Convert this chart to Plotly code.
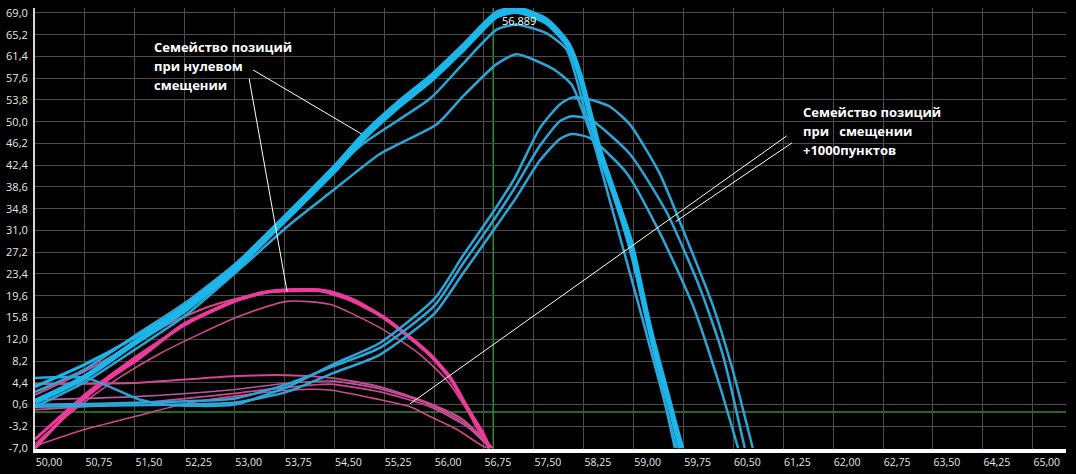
import plotly.graph_objects as go

# ---------------- axis ticks ----------------
x_ticks = [50.00, 50.75, 51.50, 52.25, 53.00, 53.75, 54.50, 55.25, 56.00, 56.75, 57.50,
           58.25, 59.00, 59.75, 60.50, 61.25, 62.00, 62.75, 63.50, 64.25, 65.00]
x_tick_labels = ["50,00", "50,75", "51,50", "52,25", "53,00", "53,75", "54,50", "55,25", "56,00",
                 "56,75", "57,50", "58,25", "59,00", "59,75", "60,50", "61,25", "62,00", "62,75",
                 "63,50", "64,25", "65,00"]
y_ticks = [69.0, 65.2, 61.4, 57.6, 53.8, 50.0, 46.2, 42.4, 38.6, 34.8, 31.0, 27.2, 23.4, 19.6,
           15.8, 12.0, 8.2, 4.4, 0.6, -3.2, -7.0]
y_tick_labels = ["69,0", "65,2", "61,4", "57,6", "53,8", "50,0", "46,2", "42,4", "38,6", "34,8",
                 "31,0", "27,2", "23,4", "19,6", "15,8", "12,0", "8,2", "4,4", "0,6", "-3,2", "-7,0"]

cursor_x = 56.889
cursor_y = -0.7
cursor_label = "56,889"

# ---------------- zero-offset family (cyan) ----------------
a1_x = [50.00, 50.75, 51.50, 52.25, 53.01, 53.76, 54.51, 54.96, 55.44, 55.94, 56.43, 56.94, 57.26,
        57.70, 58.02, 58.19, 58.49, 58.94, 59.24, 59.54, 59.71]
a1_y = [1.1, 5.4, 11.4, 17.1, 24.3, 32.9, 41.6, 47.4, 52.5, 57.2, 62.6, 68.5, 69.3,
        67.3, 63.3, 58.2, 44.9, 29.5, 14.0, 0.7, -7.0]

a4_x = [50.00, 50.75, 51.50, 52.25, 53.01, 53.76, 54.51, 54.96, 55.44, 55.94, 56.43, 56.94, 57.26,
        57.70, 58.02, 58.19, 58.49, 58.94, 59.24, 59.54, 59.74]
a4_y = [3.7, 7.6, 12.3, 17.8, 25.0, 33.6, 42.4, 48.2, 53.3, 58.0, 63.4, 69.2, 69.9,
        67.9, 63.8, 58.6, 45.3, 29.8, 14.3, 1.0, -7.0]

a2_x = [50.00, 50.75, 51.50, 52.25, 53.01, 53.98, 54.93, 55.94, 56.43, 56.94, 57.24, 57.67, 57.99,
        58.27, 58.64, 59.09, 59.65]
a2_y = [2.8, 6.75, 12.6, 18.28, 25.15, 35.81, 46.13, 54.04, 60.06, 66.08, 66.94, 65.56, 62.64,
        51.8, 36.3, 17.4, -7.0]

a3_x = [50.00, 50.75, 51.50, 52.25, 53.13, 53.83, 54.43, 55.19, 56.04, 56.43, 56.94, 57.24, 57.79,
        58.07, 58.39, 58.64, 58.94, 59.24, 59.62]
a3_y = [0.22, 4.52, 10.19, 16.04, 24.81, 32.03, 37.53, 44.41, 49.57, 54.39, 60.06, 61.78, 59.20,
        56.45, 46.65, 38.91, 27.73, 13.12, -7.0]

# ---------------- +1000 offset family (cyan) ----------------
b1_x = [50.00, 50.78, 51.58, 51.98, 52.98, 53.79, 54.48, 55.19, 56.01, 56.43, 56.88, 57.21, 57.59,
        57.89, 58.07, 58.34, 58.64, 58.94, 59.39, 59.80, 60.19, 60.49, 60.79]
b1_y = [5.21, 5.21, 1.42, 0.56, 0.56, 3.66, 7.61, 11.40, 19.13, 26.53, 34.09, 40.11, 48.88,
        53.01, 54.21, 53.87, 52.66, 49.57, 40.97, 29.45, 17.93, 6.58, -7.0]

b2_x = [50.00, 50.98, 51.98, 52.98, 53.79, 54.48, 55.19, 56.01, 56.43, 56.88, 57.21, 57.59, 57.89,
        58.07, 58.34, 58.94, 59.50, 60.00, 60.34, 60.67]
b2_y = [0.56, 0.74, 1.08, 1.60, 4.17, 7.27, 10.54, 17.93, 25.15, 32.55, 38.39, 45.79, 50.09,
        50.95, 50.43, 44.41, 34.09, 20.85, 9.33, -7.0]

b3_x = [50.00, 50.98, 51.98, 52.98, 53.79, 54.48, 55.19, 56.01, 56.43, 56.88, 57.21, 57.59, 57.89,
        58.07, 58.34, 58.90, 59.39, 59.89, 60.30, 60.57]
b3_y = [0.22, 0.39, 0.56, 0.91, 2.80, 6.07, 9.33, 16.56, 23.43, 30.83, 36.33, 43.21, 46.99,
        47.85, 47.16, 40.97, 30.66, 17.93, 3.66, -7.0]

# ---------------- zero-offset family (pink) ----------------
p1_x = [50.00, 50.30, 50.63, 51.08, 51.58, 52.22, 52.98, 53.43, 53.83, 54.28, 54.69, 55.19, 55.59,
        55.94, 56.24, 56.49, 56.69, 56.84]
p1_y = [-7.0, -3.22, 0.56, 4.86, 8.82, 14.50, 18.62, 20.16, 20.50, 20.50, 19.13, 16.21, 12.78,
        9.33, 5.38, 0.22, -3.73, -7.0]

p2_x = [50.00, 50.38, 50.75, 51.20, 51.73, 52.33, 53.08, 53.53, 53.98, 54.43, 54.81, 55.26, 55.64,
        55.97, 56.27, 56.51, 56.72, 56.84]
p2_y = [-5.45, -1.50, 2.28, 6.24, 10.54, 15.01, 18.96, 20.33, 20.67, 20.33, 18.79, 15.70, 12.26,
        8.82, 4.69, -0.12, -4.08, -7.0]

p3_x = [50.00, 50.75, 51.43, 52.03, 52.63, 53.23, 53.83, 54.28, 54.73, 55.19, 55.59, 55.94, 56.24,
        56.49, 56.84]
p3_y = [2.28, 6.41, 10.88, 14.84, 17.76, 19.65, 20.67, 20.67, 19.13, 16.04, 12.60, 9.16, 5.21,
        0.22, -7.0]

p4_x = [50.00, 50.38, 50.75, 51.28, 51.88, 52.48, 53.08, 53.79, 54.43, 55.19, 55.79, 56.19, 56.49,
        56.73, 56.84]
p4_y = [-6.31, -2.36, 1.08, 5.38, 9.51, 12.94, 16.04, 18.62, 18.10, 13.98, 9.33, 4.86, -0.30,
        -5.45, -7.0]

# ---------------- +1000 offset family (pink) ----------------
la_x = [50.00, 51.47, 52.98, 53.79, 54.48, 55.19, 55.94, 56.43, 56.88]
la_y = [4.17, 4.35, 5.55, 5.72, 5.21, 3.66, 0.74, -2.02, -7.0]

lb_x = [50.00, 51.43, 52.93, 53.83, 54.43, 55.19, 55.94, 56.49, 56.84]
lb_y = [-0.30, 0.74, 2.45, 3.66, 4.17, 2.80, 0.22, -3.22, -7.0]

lc_x = [50.00, 50.75, 51.50, 52.25, 52.93, 53.83, 54.43, 55.19, 55.64, 55.94, 56.34, 56.73, 56.81]
lc_y = [-6.66, -3.73, -1.50, 0.74, 1.94, 3.14, 3.14, 1.42, 0.22, -1.50, -3.73, -6.66, -7.0]

ld_x = [50.00, 51.43, 52.93, 53.83, 54.48, 55.19, 55.94, 56.49, 56.84]
ld_y = [1.42, 1.94, 3.14, 4.35, 4.69, 3.31, 0.56, -2.88, -7.0]

# ---------------- colours ----------------
CYAN = "#1bb6ea"
CYAN2 = "#2aa6d8"
PINK = "#ee3a9c"
PINK2 = "#d0488e"
PURPLE = "#b65aa8"

fig = go.Figure()


def add(x, y, color, width, smooth=0.6):
    fig.add_trace(go.Scatter(x=x, y=y, mode="lines",
                             line=dict(color=color, width=width, shape="spline", smoothing=smooth),
                             hoverinfo="skip", showlegend=False))


# pink first (drawn under cyan)
add(lc_x, lc_y, PINK2, 1.6)
add(lb_x, lb_y, PINK2, 1.8)
add(ld_x, ld_y, PURPLE, 1.6)
add(la_x, la_y, PINK2, 2.0)
add(p4_x, p4_y, PINK2, 1.6)
add(p3_x, p3_y, PINK2, 2.0)
add(p2_x, p2_y, PINK, 3.0)
add(p1_x, p1_y, PINK, 3.5)

# cyan
add(b3_x, b3_y, CYAN2, 2.5)
add(b2_x, b2_y, CYAN2, 2.5)
add(b1_x, b1_y, CYAN2, 2.5)
add(a3_x, a3_y, CYAN2, 2.5)
add(a2_x, a2_y, CYAN2, 2.5)
add(a4_x, a4_y, CYAN, 3.0)
add(a1_x, a1_y, CYAN, 5.5)

# ---------------- layout ----------------
W, H = 1076, 474
ML, MR, MT, MB = 35, 10, 5, 21

fig.update_layout(
    width=W, height=H,
    margin=dict(l=ML, r=MR, t=MT, b=MB, pad=0),
    paper_bgcolor="#000000", plot_bgcolor="#000000",
    font=dict(family="Open Sans, sans-serif", color="#e6e6e6", size=11),
    showlegend=False,
    xaxis=dict(range=[50, 65.5], tickvals=x_ticks, ticktext=x_tick_labels,
               showgrid=True, gridcolor="#4d4d4d", gridwidth=1, zeroline=False,
               showline=True, linecolor="#ffffff", linewidth=4,
               ticks="", ticklabelshift=14, ticklabelstandoff=0,
               tickfont=dict(size=10.5, color="#e6e6e6"), fixedrange=True),
    yaxis=dict(range=[-7.17, 69.86], tickvals=y_ticks, ticktext=y_tick_labels,
               showgrid=True, gridcolor="#4d4d4d", gridwidth=1, zeroline=False,
               showline=True, linecolor="#d8d8d8", linewidth=2,
               ticks="", ticklabelstandoff=3,
               tickfont=dict(size=11, color="#e6e6e6"), fixedrange=True),
)

# cursor cross-hair
fig.add_shape(type="line", xref="x", yref="paper", x0=cursor_x, x1=cursor_x, y0=0, y1=1,
              line=dict(color="#2f8a34", width=1.5), layer="below")
fig.add_shape(type="line", xref="paper", yref="y", x0=0, x1=1, y0=cursor_y, y1=cursor_y,
              line=dict(color="#2f8a34", width=1.5), layer="below")
fig.add_annotation(x=cursor_x, y=67.6, xref="x", yref="y", text=cursor_label, showarrow=False,
                   xanchor="left", yanchor="middle", xshift=7,
                   font=dict(size=11, color="#ffffff"))


def px2x(px):
    return (px - ML) / (W - ML - MR)


def py2y(py):
    return (H - MB - py) / (H - MT - MB)


left_lines = ["Семейство позиций", "при нулевом", "смещении"]
for i, t in enumerate(left_lines):
    fig.add_annotation(x=px2x(152), y=py2y(45 + 19 * i), xref="paper", yref="paper", text=t,
                       showarrow=False, xanchor="left", yanchor="middle",
                       font=dict(size=13, color="#ffffff", family="Open Sans, sans-serif", weight="bold"))

right_lines = ["Семейство позиций", "при\u00a0\u00a0\u00a0смещении", "+1000пунктов"]
for i, t in enumerate(right_lines):
    fig.add_annotation(x=px2x(801), y=py2y(111 + 19 * i), xref="paper", yref="paper", text=t,
                       showarrow=False, xanchor="left", yanchor="middle",
                       font=dict(size=13, color="#ffffff", family="Open Sans, sans-serif", weight="bold"))

# pointer lines
pointer_lines = [
    ((53.28, 59.03), (54.91, 47.85)),
    ((53.22, 57.48), (53.79, 20.33)),
    ((61.30, 47.51), (55.64, 0.74)),
    ((61.38, 46.30), (59.63, 32.55)),
]
for (x0, y0), (x1, y1) in pointer_lines:
    fig.add_shape(type="line", xref="x", yref="y", x0=x0, y0=y0, x1=x1, y1=y1,
                  line=dict(color="#ffffff", width=1))

fig.write_html("out.html", config={"displayModeBar": False},
               post_script="document.body.style.margin='0';")
